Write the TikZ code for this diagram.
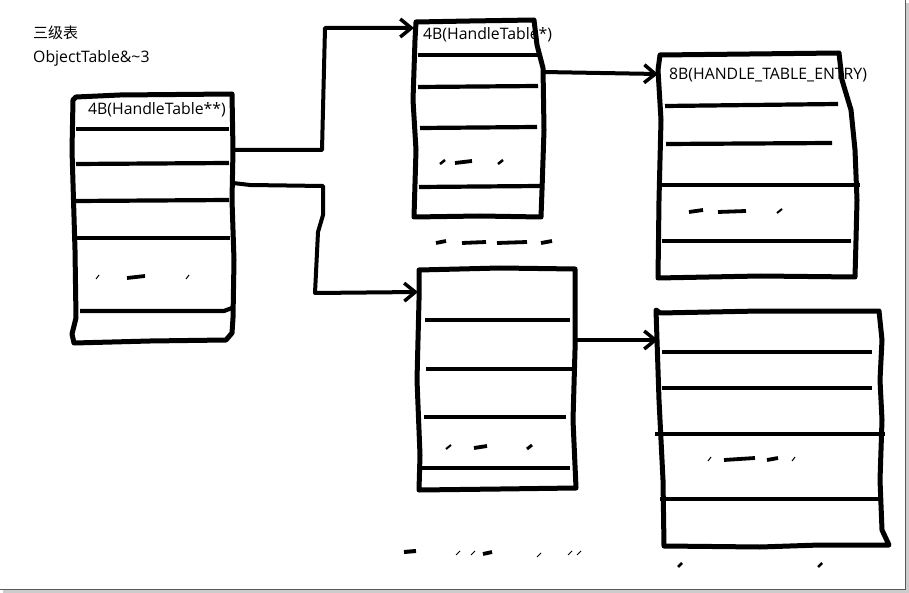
\documentclass[tikz,border=0pt]{standalone}
\usepackage{fontspec}
\setmainfont{Open Sans}
\newfontfamily\cjk{Noto Sans CJK SC}
\usetikzlibrary{arrows.meta}
\begin{document}
\begin{tikzpicture}[x=1pt,y=-1pt,
  pen/.style={line width=5pt,line join=round,line cap=round},
  row/.style={line width=4.2pt,line cap=butt},
  bar/.style={line width=3.8pt,line cap=butt},
  tick/.style={line width=1pt},
  conn/.style={line width=4pt,line join=round,-{Straight Barb[length=11pt,width=18pt,line width=3.5pt]}},
  box/.style={draw=none,inner sep=0pt,anchor=north west},
  lbl/.style={inner sep=0pt,anchor=west,font=\fontsize{15.8}{18}\selectfont},
]
\useasboundingbox (0,0) rectangle (909,593);
\fill[white] (0,0) rectangle (909,593);
% frame with shadow
\draw[gray!40,line width=3pt] (907,3) -- (907,591) -- (3,591);
\draw[gray!70!black,line width=1pt] (905,0) -- (905,589) -- (0,589);

% titles
\node[lbl,font=\cjk\fontsize{15}{18}\selectfont] (t1) at (33,33) {三级表};
\node[lbl] (t2) at (33,58) {ObjectTable\&\textasciitilde3};

% box nodes (invisible frames)
\node[box,minimum width=161pt,minimum height=250pt] (A) at (72,93) {};
\node[box,minimum width=127pt,minimum height=196pt] (B) at (414,21) {};
\node[box,minimum width=199pt,minimum height=223pt] (C) at (658,55) {};
\node[box,minimum width=157pt,minimum height=221pt] (D) at (418,269) {};
\node[box,minimum width=222pt,minimum height=237pt] (E) at (658,310) {};

% ---------- Box A ----------
\draw[pen] (76,97) -- (120,95) -- (232,94) -- (233,150) -- (232,200) -- (234,260) -- (233,318) -- (232,333) -- (226,340) -- (150,341) -- (74,343) -- (72,334) -- (76,318) -- (75,250) -- (72,150) -- (73,100) -- cycle;
\draw[row] (76,129) -- (229,129);
\draw[row] (76,164) -- (229,163);
\draw[row] (76,201) -- (229,200);
\draw[row] (76,238) -- (230,238);
\draw[row] (80,311) -- (224,311) -- (232,308);
\draw[tick] (96,279) -- (99,275);
\draw[bar] (127,278) -- (145,276);
\draw[tick] (186,279) -- (189,275);
\node[lbl] (la) at (88,110) {4B(HandleTable**)};

% ---------- Box B ----------
\node[lbl] (lb) at (423,35) {4B(HandleTable*)};
\draw[pen] (416,22) -- (470,21) -- (534,20) -- (537,45) -- (543,68) -- (544,130) -- (542,190) -- (541,217) -- (480,216) -- (414,217) -- (416,150) -- (413,100) -- (415,40) -- cycle;
\draw[row] (418,55) -- (540,55);
\draw[row] (418,87) -- (538,86);
\draw[row] (420,128) -- (537,127);
\draw[row] (419,187) -- (540,186);
\draw[tick,line width=2.5pt] (440,164) -- (445,160);
\draw[bar] (455,163) -- (472,161);
\draw[tick,line width=2.5pt] (498,164) -- (503,160);
\draw[bar] (436,243) -- (446,241);
\draw[bar] (462,243) -- (486,242);
\draw[bar] (497,243) -- (527,242);
\draw[bar] (541,243) -- (552,241);

% ---------- Box C ----------
\node[lbl] (lc) at (669,75) {8B(HANDLE\_TABLE\_ENTRY)};
\draw[pen] (660,55) -- (750,54) -- (839,53) -- (842,80) -- (851,110) -- (855,150) -- (857,200) -- (856,240) -- (855,277) -- (760,276) -- (658,278) -- (659,200) -- (661,120) -- (658,70) -- cycle;
\draw[row] (665,106) -- (838,104);
\draw[row] (666,144) -- (832,143);
\draw[row] (661,185) -- (860,185);
\draw[row] (662,241) -- (851,241);
\draw[bar] (689,212) -- (703,210);
\draw[bar] (718,212) -- (746,211);
\draw[tick,line width=2pt] (777,213) -- (782,209);

% ---------- Box D ----------
\draw[pen] (419,270) -- (500,268) -- (575,269) -- (575,350) -- (573,420) -- (576,488) -- (500,489) -- (419,490) -- (420,455) -- (417,380) -- (419,300) -- cycle;
\draw[row] (425,320) -- (570,320);
\draw[row] (426,369) -- (577,369);
\draw[row] (424,417) -- (566,417);
\draw[row] (421,468) -- (570,468);
\draw[tick,line width=2pt] (446,449) -- (451,445);
\draw[bar] (474,448) -- (487,446);
\draw[tick,line width=3pt] (527,449) -- (532,445);

% ---------- Box E ----------
\draw[pen] (656,310) -- (660,313) -- (760,311) -- (879,311) -- (882,340) -- (880,380) -- (882,420) -- (880,480) -- (882,530) -- (889,545) -- (820,545) -- (760,547) -- (664,546) -- (663,480) -- (659,400) -- (657,340) -- cycle;
\draw[row] (662,352) -- (872,352);
\draw[row] (662,388) -- (872,388);
\draw[row] (655,434) -- (885,434);
\draw[row] (660,499) -- (882,499);
\draw[tick] (708,461) -- (711,457);
\draw[bar] (724,460) -- (755,458);
\draw[bar] (767,460) -- (778,458);
\draw[tick] (792,461) -- (795,457);
\draw[tick,line width=2.5pt] (678,567) -- (682,563);
\draw[tick,line width=2.5pt] (818,567) -- (822,563);

% scattered marks bottom-left
\draw[bar,line width=4pt] (404,552) -- (416,551);
\draw[tick] (456,555) -- (460,551);
\draw[tick] (471,555) -- (475,551);
\draw[bar] (483,554) -- (492,552);
\draw[tick] (537,557) -- (541,553);
\draw[tick] (568,555) -- (572,551);
\draw[tick] (577,555) -- (581,551);

% ---------- connectors ----------
\coordinate (a1) at (233,150);
\coordinate (a2) at (233,183);
\coordinate (b1) at (543,72);
\coordinate (d1) at (575,340);
\draw[conn] (a1) -- (322,150) -- (325,28) -- (B.west |- {0,28});
\draw[conn] (a2) -- (250,185) -- (323,186) -- (323,215) -- (318,232) -- (315,293) -- (D.west |- {0,292});
\draw[conn] (b1) -- (C.west |- {0,74});
\draw[conn] (d1) -- (E.west |- {0,340});
\end{tikzpicture}
\end{document}
